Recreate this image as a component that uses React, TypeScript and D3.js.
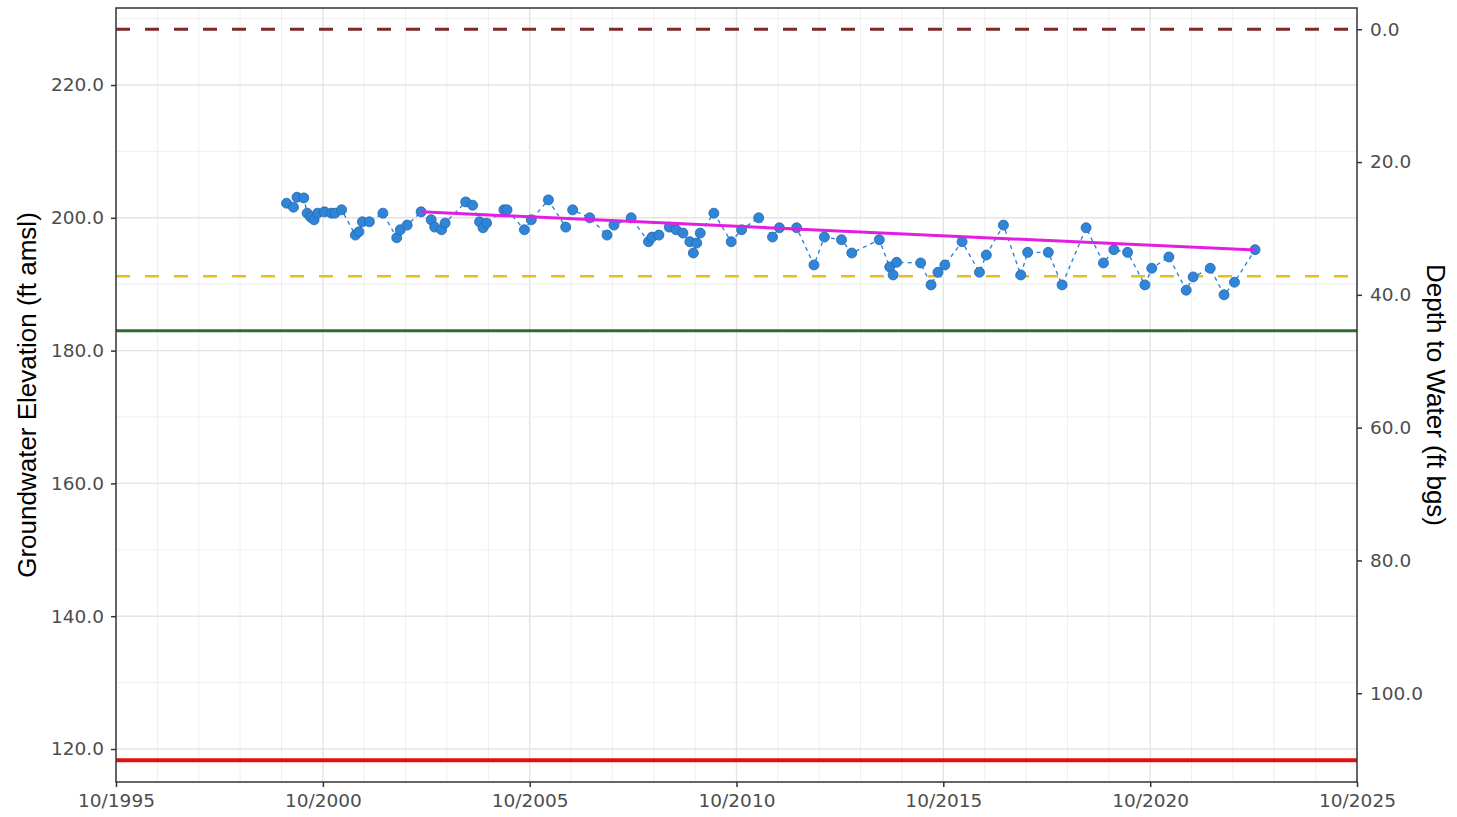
import React, { useEffect, useRef } from "react";
import * as d3 from "d3";

// measurement dates (YYYY-MM) and groundwater elevations (ft amsl)
const sampleDates = [
  "1999-11", "2000-01", "2000-02", "2000-04", "2000-05", "2000-06", "2000-07", "2000-08", "2000-10", "2000-12",
  "2001-01", "2001-03", "2001-07", "2001-08", "2001-09", "2001-11", "2002-03", "2002-07", "2002-08", "2002-10",
  "2003-02", "2003-05", "2003-06", "2003-08", "2003-09", "2004-03", "2004-05", "2004-07", "2004-08", "2004-09",
  "2005-02", "2005-03", "2005-08", "2005-10", "2006-03", "2006-08", "2006-10", "2007-03", "2007-08", "2007-10",
  "2008-03", "2008-08", "2008-09", "2008-11", "2009-02", "2009-04", "2009-06", "2009-08", "2009-09", "2009-10",
  "2009-11", "2010-03", "2010-08", "2010-11", "2011-04", "2011-08", "2011-10", "2012-03", "2012-08", "2012-11",
  "2013-04", "2013-07", "2014-03", "2014-06", "2014-07", "2014-08", "2015-03", "2015-06", "2015-08", "2015-10",
  "2016-03", "2016-08", "2016-10", "2017-03", "2017-08", "2017-10", "2018-04", "2018-08", "2019-03", "2019-08",
  "2019-11", "2020-03", "2020-08", "2020-10", "2021-03", "2021-08", "2021-10", "2022-03", "2022-07", "2022-10",
  "2023-04",
];
const elevations = [
  202.2, 201.6, 203.1, 203.0, 200.7, 200.1, 199.7, 200.7, 200.9, 200.7,
  200.7, 201.2, 197.4, 197.9, 199.4, 199.4, 200.7, 197.0, 198.2, 198.9,
  200.9, 199.7, 198.6, 198.2, 199.2, 202.4, 201.9, 199.4, 198.5, 199.2,
  201.2, 201.2, 198.2, 199.7, 202.7, 198.6, 201.2, 200.0, 197.4, 198.9,
  200.0, 196.4, 197.1, 197.4, 198.6, 198.2, 197.7, 196.4, 194.7, 196.2,
  197.7, 200.7, 196.4, 198.2, 200.0, 197.1, 198.5, 198.5, 192.9, 197.1,
  196.7, 194.7, 196.7, 192.6, 191.4, 193.3, 193.2, 189.9, 191.8, 192.9,
  196.4, 191.8, 194.4, 198.9, 191.4, 194.8, 194.8, 189.9, 198.5, 193.2,
  195.2, 194.8, 189.9, 192.4, 194.1, 189.1, 191.1, 192.4, 188.4, 190.3,
  195.2,
];

// trend line end points
const trendDates = ["2003-02", "2023-04"];
const trendValues = [200.9, 195.15];

// reference levels (ft amsl)
const groundSurface = 228.4;
const thresholdLevels = [
  { value: 228.4, color: "#7d2a2a", dash: "14,15", width: 3 },
  { value: 191.2, color: "#e6bf1c", dash: "14,15", width: 2.5 },
  { value: 183.0, color: "#2f6a2f", dash: null, width: 3 },
  { value: 118.3, color: "#e01010", dash: null, width: 4 },
];

const leftTicks = [120, 140, 160, 180, 200, 220];
const rightTicks = [0, 20, 40, 60, 80, 100];
const xTickYears = [1995, 2000, 2005, 2010, 2015, 2020, 2025];

const parseMonth = (s: string) => {
  const [y, m] = s.split("-").map(Number);
  return new Date(y, m - 1, 15);
};

const App = () => {
  const ref = useRef<SVGSVGElement>(null);

  useEffect(() => {
    const width = 1457;
    const height = 817;
    const left = 116, right = 1357, top = 8, bottom = 782;

    const svg = d3.select(ref.current);
    svg.selectAll("*").remove();

    const x = d3.scaleTime()
      .domain([new Date(1995, 9, 1), new Date(2025, 9, 1)])
      .range([left, right]);
    const y = d3.scaleLinear().domain([115.03, 231.6]).range([bottom, top]);
    const yDepth = d3.scaleLinear()
      .domain([groundSurface - 115.03, groundSurface - 231.6])
      .range([bottom, top]);

    svg.attr("width", width).attr("height", height);

    svg.append("rect")
      .attr("x", left).attr("y", top)
      .attr("width", right - left).attr("height", bottom - top)
      .attr("fill", "#ffffff");

    // grid
    const grid = svg.append("g");
    d3.range(1996, 2025).forEach((yr) => {
      const major = yr % 5 === 0;
      const gx = x(new Date(yr, 9, 1));
      grid.append("line")
        .attr("x1", gx).attr("x2", gx).attr("y1", top).attr("y2", bottom)
        .attr("stroke", major ? "#e4e4e4" : "#efefef")
        .attr("stroke-width", major ? 1.4 : 1);
    });
    d3.range(120, 231, 10).forEach((v) => {
      const major = v % 20 === 0;
      grid.append("line")
        .attr("x1", left).attr("x2", right).attr("y1", y(v)).attr("y2", y(v))
        .attr("stroke", major ? "#e4e4e4" : "#efefef")
        .attr("stroke-width", major ? 1.4 : 1);
    });

    // reference levels
    thresholdLevels.forEach((t) => {
      svg.append("line")
        .attr("x1", left).attr("x2", right)
        .attr("y1", y(t.value)).attr("y2", y(t.value))
        .attr("stroke", t.color)
        .attr("stroke-width", t.width)
        .attr("stroke-dasharray", t.dash ?? null);
    });

    const points = sampleDates.map((d, i) => ({ date: parseMonth(d), value: elevations[i] }));

    // dashed connecting line
    const line = d3.line<{ date: Date; value: number }>()
      .x((d) => x(d.date))
      .y((d) => y(d.value));
    svg.append("path")
      .datum(points)
      .attr("d", line)
      .attr("fill", "none")
      .attr("stroke", "#2f86d8")
      .attr("stroke-width", 1.4)
      .attr("stroke-dasharray", "4,4");

    svg.append("g")
      .selectAll("circle")
      .data(points)
      .enter()
      .append("circle")
      .attr("cx", (d) => x(d.date))
      .attr("cy", (d) => y(d.value))
      .attr("r", 5)
      .attr("fill", "#2f86d8")
      .attr("stroke", "#2566a8")
      .attr("stroke-width", 0.8);

    // trend
    svg.append("line")
      .attr("x1", x(parseMonth(trendDates[0]))).attr("y1", y(trendValues[0]))
      .attr("x2", x(parseMonth(trendDates[1]))).attr("y2", y(trendValues[1]))
      .attr("stroke", "#e21ee2")
      .attr("stroke-width", 3);

    // panel border
    svg.append("rect")
      .attr("x", left).attr("y", top)
      .attr("width", right - left).attr("height", bottom - top)
      .attr("fill", "none")
      .attr("stroke", "#333333")
      .attr("stroke-width", 1.5);

    const font = "Liberation Sans, Arial, sans-serif";
    const tickFont = "DejaVu Sans, sans-serif";

    // axes
    const xAxis = d3.axisBottom(x)
      .tickValues(xTickYears.map((yr) => new Date(yr, 9, 1)))
      .tickFormat((d) => d3.timeFormat("%m/%Y")(d as Date))
      .tickSize(5).tickPadding(7);
    const gx = svg.append("g").attr("transform", `translate(0,${bottom})`).call(xAxis);

    const yAxis = d3.axisLeft(y).tickValues(leftTicks).tickFormat(d3.format(".1f")).tickSize(5).tickPadding(7);
    const gy = svg.append("g").attr("transform", `translate(${left},0)`).call(yAxis);

    const yAxisR = d3.axisRight(yDepth).tickValues(rightTicks).tickFormat(d3.format(".1f")).tickSize(5).tickPadding(8);
    const gyr = svg.append("g").attr("transform", `translate(${right},0)`).call(yAxisR);

    [gx, gy, gyr].forEach((g) => {
      g.select(".domain").remove();
      g.selectAll(".tick line").attr("stroke", "#333333").attr("stroke-width", 1.5);
      g.selectAll(".tick text")
        .attr("fill", "#4d4d4d")
        .attr("font-family", tickFont)
        .attr("font-size", 18.5);
    });

    svg.append("text")
      .attr("transform", `translate(36,${(top + bottom) / 2}) rotate(-90)`)
      .attr("text-anchor", "middle")
      .attr("font-family", font)
      .attr("font-size", 26)
      .attr("fill", "#000")
      .text("Groundwater Elevation (ft amsl)");

    svg.append("text")
      .attr("transform", `translate(1427,${(top + bottom) / 2}) rotate(90)`)
      .attr("text-anchor", "middle")
      .attr("font-family", font)
      .attr("font-size", 26)
      .attr("fill", "#000")
      .text("Depth to Water (ft bgs)");
  }, []);

  return <svg ref={ref} style={{ position: "absolute", left: 0, top: 0, background: "#fff" }} />;
};

export default App;
